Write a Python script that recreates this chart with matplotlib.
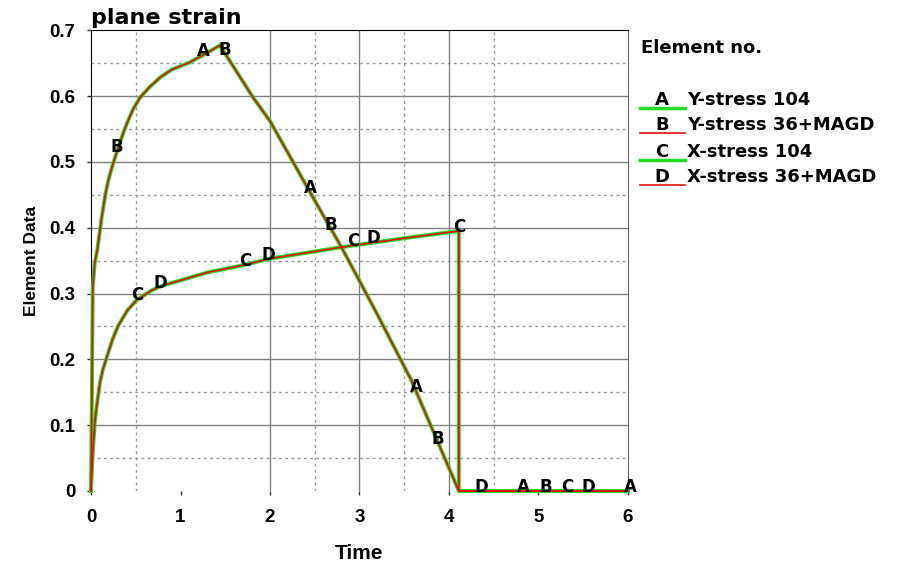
import numpy as np
import matplotlib
matplotlib.use('Agg')
import matplotlib.pyplot as plt
from matplotlib.lines import Line2D

plt.rcParams['font.family'] = ['Liberation Sans', 'DejaVu Sans']

# Y-stress (A = 104, B = 36+MAGD), both curves lie on top of each other
y_time = [0, 0.01, 0.02, 0.04, 0.07, 0.12, 0.16, 0.19, 0.23, 0.3, 0.35, 0.4, 0.47,
          0.55, 0.65, 0.77, 0.9, 1.1, 1.25, 1.44, 1.81, 2.0, 2.48, 2.8, 3.2, 3.58,
          4.11, 6.0]
y_stress = [0, 0.15, 0.31, 0.345, 0.366, 0.416, 0.45, 0.47, 0.49, 0.52, 0.54, 0.558,
            0.58, 0.598, 0.613, 0.628, 0.64, 0.651, 0.662, 0.677, 0.598, 0.562, 0.446,
            0.37, 0.268, 0.168, 0, 0]

# X-stress (C = 104, D = 36+MAGD)
x_time = [0, 0.02, 0.045, 0.06, 0.1, 0.13, 0.18, 0.24, 0.3, 0.36, 0.41, 0.51, 0.6,
          0.68, 0.8, 1.0, 1.3, 1.7, 2.0, 2.78, 3.5, 4.11, 4.11, 6.0]
x_stress = [0, 0.06, 0.108, 0.125, 0.165, 0.183, 0.205, 0.23, 0.25, 0.264, 0.275,
            0.29, 0.298, 0.305, 0.312, 0.32, 0.332, 0.343, 0.353, 0.37, 0.384, 0.395,
            0, 0]

# where the curve letters sit along the time axis
a_marks = [1.25, 2.45, 3.63, 4.83, 6.03]
b_marks = [0.29, 1.50, 2.68, 3.88, 5.08]
c_marks = [0.52, 1.72, 2.93, 4.11, 5.32]
d_marks = [0.77, 1.98, 3.16, 4.36, 5.56]

legend_names = ['Y-stress 104', 'Y-stress 36+MAGD', 'X-stress 104', 'X-stress 36+MAGD']
legend_letters = ['A', 'B', 'C', 'D']

green = '#22dd22'
red = '#dd1111'
wide = ['DejaVu Sans']

fig = plt.figure(figsize=(9.01, 5.70), dpi=100)
ax = fig.add_axes([0.101, 0.1386, 0.596, 0.8084])

# grid: solid at the majors, dotted at the minors
for v in np.arange(0.1, 0.65, 0.1):
    ax.axhline(v, color='#808080', lw=1.0, zorder=1)
for v in np.arange(0.05, 0.7, 0.1):
    ax.axhline(v, color='#999999', lw=1.0, ls=(0, (2, 2.5)), zorder=1)
for v in [2, 3, 4]:
    ax.axvline(v, color='#808080', lw=1.0, zorder=1)
for v in [0.5, 2.5, 3.5, 4.5]:
    ax.axvline(v, color='#999999', lw=1.0, ls=(0, (2, 2.5)), zorder=1)

# green (104) under red (36+MAGD)
ax.plot(y_time, y_stress, color=green, lw=2.8, zorder=3, clip_on=False)
ax.plot(y_time, y_stress, color=red, lw=1.2, zorder=4, clip_on=False)
ax.plot(x_time, x_stress, color=green, lw=2.8, zorder=3, clip_on=False)
ax.plot(x_time, x_stress, color=red, lw=1.2, zorder=4, clip_on=False)

def put_letters(letter, xs, tt, vv, dy=0):
    for xv in xs:
        yv = np.interp(xv, tt, vv)
        if xv > 4.05 and xv < 4.2 and letter == 'C':
            yv = 0.395
        ax.annotate(letter, (xv, yv), xytext=(0, dy), textcoords='offset points',
                    ha='center', va='center', fontsize=12, fontweight='bold',
                    family=wide, zorder=6, annotation_clip=False)

put_letters('A', a_marks, y_time, y_stress, 3)
put_letters('B', b_marks, y_time, y_stress, 3)
put_letters('C', c_marks, x_time, x_stress, 3)
put_letters('D', d_marks, x_time, x_stress, 3)

ax.set_xlim(0, 6)
ax.set_ylim(0, 0.7)
ax.set_xticks(range(7))
ax.set_xticklabels([str(i) for i in range(7)])
ax.set_yticks(np.arange(0, 0.71, 0.1))
ax.set_yticklabels(['0', '0.1', '0.2', '0.3', '0.4', '0.5', '0.6', '0.7'])
ax.tick_params(direction='out', length=3, width=1, labelsize=13.5, color='#333333')
ax.tick_params(axis='y', pad=8)
ax.tick_params(axis='x', pad=10)
for lab in ax.get_xticklabels() + ax.get_yticklabels():
    lab.set_fontweight('bold')

ax.spines['bottom'].set_visible(False)
ax.spines['left'].set_color('black')
ax.spines['top'].set_color('black')
ax.spines['right'].set_color('#666666')

ax.set_xlabel('Time', fontsize=15, fontweight='bold', labelpad=13)
ax.set_ylabel('Element Data', fontsize=12.5, fontweight='bold', labelpad=8)
ax.text(0.0, 1.004, 'plane strain', transform=ax.transAxes, fontsize=16,
        fontweight='bold', family=wide, ha='left', va='bottom')

# legend drawn by hand on the right
fig.text(641 / 901, 1 - 48 / 570, 'Element no.', fontsize=13, fontweight='bold',
         family=wide, ha='left', va='center')
rows = [100, 125, 152, 177]
cols = [green, red, green, red]
for r, c, letter, name in zip(rows, cols, legend_letters, legend_names):
    yy = 1 - r / 570
    fig.add_artist(Line2D([640 / 901, 685 / 901], [yy - 8 / 570, yy - 8 / 570],
                          color=c, lw=2.5 if c == green else 1.2,
                          transform=fig.transFigure))
    fig.text(662 / 901, yy, letter, fontsize=13, fontweight='bold', family=wide,
             ha='center', va='center')
    fig.text(687 / 901, yy, name, fontsize=13, fontweight='bold', family=wide,
             ha='left', va='center')

plt.savefig('out.png', dpi=100)
